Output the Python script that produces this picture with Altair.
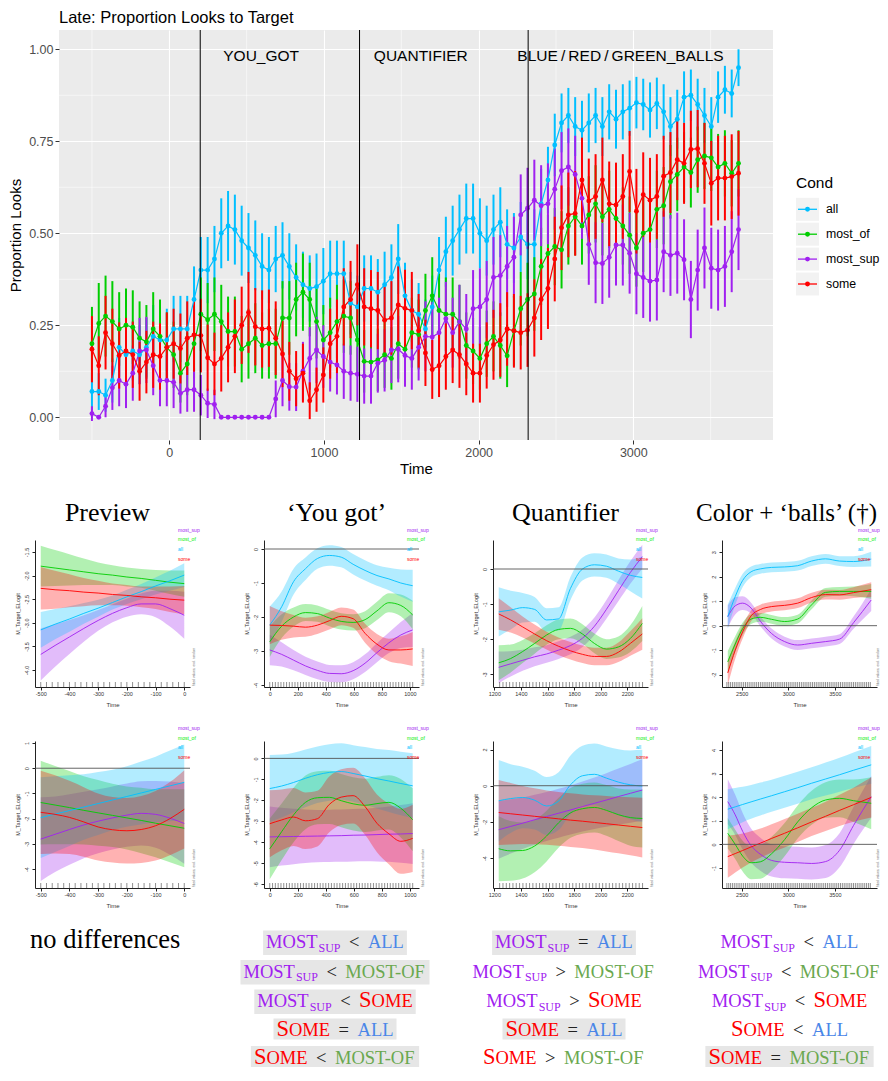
import altair as alt
import numpy as np
import pandas as pd

# ------------------------------------------------------------------
# Top panel: proportion of looks to target (mean and error half-width)
# ------------------------------------------------------------------
CONDS = ["all", "most_of", "most_sup", "some"]
TIME_START, TIME_STEP, N_BINS = -500, 44, 96

ALL_MEAN = [0.07, 0.07, 0.06, 0.10, 0.19, 0.17, 0.18, 0.17, 0.19, 0.22,
            0.21, 0.21, 0.24, 0.24, 0.24, 0.32, 0.40, 0.40, 0.43, 0.50,
            0.52, 0.51, 0.48, 0.46, 0.44, 0.41, 0.40, 0.43, 0.44, 0.41,
            0.38, 0.36, 0.35, 0.355, 0.37, 0.39, 0.39, 0.39, 0.31, 0.30,
            0.35, 0.35, 0.34, 0.36, 0.38, 0.43, 0.33, 0.29, 0.28, 0.24,
            0.30, 0.40, 0.45, 0.48, 0.51, 0.54, 0.54, 0.50, 0.48, 0.51,
            0.53, 0.47, 0.46, 0.49, 0.47, 0.47, 0.58, 0.645, 0.74, 0.80,
            0.82, 0.79, 0.78, 0.80, 0.82, 0.79, 0.83, 0.81, 0.83, 0.84,
            0.855, 0.85, 0.835, 0.853, 0.83, 0.79, 0.81, 0.87, 0.875, 0.85,
            0.82, 0.79, 0.87, 0.89, 0.88, 0.95]
ALL_HW = [0.05, 0.05, 0.045, 0.06, 0.08, 0.08, 0.08, 0.08, 0.08, 0.085,
          0.085, 0.085, 0.09, 0.09, 0.09, 0.09, 0.09, 0.09, 0.09, 0.095,
          0.095, 0.095, 0.095, 0.095, 0.095, 0.09, 0.09, 0.09, 0.09, 0.09,
          0.09, 0.09, 0.09, 0.09, 0.09, 0.09, 0.09, 0.09, 0.085, 0.085,
          0.09, 0.09, 0.09, 0.09, 0.09, 0.095, 0.09, 0.085, 0.085, 0.08,
          0.085, 0.09, 0.095, 0.095, 0.095, 0.095, 0.095, 0.095, 0.095, 0.095,
          0.095, 0.095, 0.095, 0.095, 0.095, 0.095, 0.095, 0.09, 0.085, 0.08,
          0.075, 0.08, 0.08, 0.08, 0.075, 0.08, 0.075, 0.08, 0.075, 0.075,
          0.07, 0.07, 0.075, 0.07, 0.075, 0.08, 0.08, 0.07, 0.07, 0.07,
          0.075, 0.08, 0.07, 0.065, 0.065, 0.05]

MOSTOF_MEAN = [0.20, 0.255, 0.275, 0.26, 0.24, 0.25, 0.245, 0.215, 0.205, 0.24,
               0.22, 0.19, 0.17, 0.12, 0.145, 0.20, 0.28, 0.265, 0.28, 0.26,
               0.233, 0.233, 0.185, 0.20, 0.215, 0.195, 0.20, 0.20, 0.27, 0.27,
               0.32, 0.34, 0.32, 0.26, 0.21, 0.23, 0.26, 0.275, 0.27, 0.21,
               0.152, 0.15, 0.156, 0.17, 0.16, 0.20, 0.185, 0.23, 0.225, 0.29,
               0.33, 0.29, 0.28, 0.28, 0.26, 0.195, 0.18, 0.16, 0.20, 0.22,
               0.195, 0.167, 0.235, 0.295, 0.32, 0.335, 0.41, 0.445, 0.464, 0.455,
               0.52, 0.545, 0.52, 0.55, 0.58, 0.545, 0.565, 0.54, 0.52, 0.495,
               0.46, 0.50, 0.51, 0.565, 0.575, 0.64, 0.66, 0.68, 0.665, 0.70,
               0.71, 0.705, 0.68, 0.69, 0.663, 0.69]
MOSTOF_HW = [0.10, 0.11, 0.11, 0.11, 0.10, 0.10, 0.10, 0.10, 0.10, 0.10,
             0.10, 0.095, 0.09, 0.08, 0.085, 0.095, 0.10, 0.10, 0.10, 0.10,
             0.095, 0.095, 0.09, 0.095, 0.095, 0.09, 0.095, 0.095, 0.10, 0.10,
             0.10, 0.105, 0.10, 0.10, 0.095, 0.095, 0.10, 0.10, 0.10, 0.095,
             0.085, 0.085, 0.085, 0.09, 0.085, 0.095, 0.09, 0.095, 0.095, 0.10,
             0.105, 0.10, 0.10, 0.10, 0.10, 0.09, 0.09, 0.085, 0.09, 0.095,
             0.09, 0.085, 0.095, 0.10, 0.10, 0.10, 0.105, 0.105, 0.105, 0.105,
             0.105, 0.105, 0.105, 0.105, 0.105, 0.105, 0.105, 0.105, 0.105, 0.105,
             0.105, 0.105, 0.105, 0.105, 0.105, 0.10, 0.10, 0.095, 0.095, 0.09,
             0.09, 0.09, 0.09, 0.09, 0.09, 0.09]

MOSTSUP_MEAN = [0.01, 0.0, 0.03, 0.08, 0.10, 0.09, 0.12, 0.18, 0.183, 0.14,
                0.10, 0.10, 0.095, 0.065, 0.075, 0.075, 0.06, 0.038, 0.035, 0.0,
                0.0, 0.0, 0.0, 0.0, 0.0, 0.0, 0.0, 0.05, 0.10, 0.083,
                0.082, 0.125, 0.16, 0.183, 0.165, 0.15, 0.142, 0.125, 0.12, 0.117,
                0.112, 0.112, 0.147, 0.155, 0.183, 0.185, 0.168, 0.16, 0.19, 0.22,
                0.218, 0.23, 0.268, 0.23, 0.26, 0.24, 0.295, 0.30, 0.32, 0.38,
                0.385, 0.41, 0.435, 0.55, 0.568, 0.59, 0.575, 0.58, 0.62, 0.67,
                0.68, 0.66, 0.595, 0.47, 0.42, 0.418, 0.435, 0.468, 0.468, 0.446,
                0.39, 0.38, 0.37, 0.373, 0.45, 0.44, 0.446, 0.428, 0.32, 0.40,
                0.46, 0.405, 0.40, 0.41, 0.45, 0.51]
MOSTSUP_HW = [0.02, 0.0, 0.03, 0.06, 0.07, 0.065, 0.075, 0.09, 0.09, 0.08,
              0.07, 0.07, 0.07, 0.055, 0.06, 0.06, 0.055, 0.04, 0.04, 0.0,
              0.0, 0.0, 0.0, 0.0, 0.0, 0.0, 0.0, 0.05, 0.07, 0.065,
              0.065, 0.08, 0.085, 0.09, 0.085, 0.08, 0.08, 0.075, 0.075, 0.075,
              0.075, 0.075, 0.08, 0.085, 0.09, 0.09, 0.085, 0.085, 0.09, 0.095,
              0.095, 0.095, 0.10, 0.095, 0.10, 0.095, 0.105, 0.105, 0.105, 0.11,
              0.11, 0.11, 0.11, 0.11, 0.11, 0.11, 0.11, 0.11, 0.11, 0.105,
              0.105, 0.105, 0.11, 0.11, 0.11, 0.11, 0.11, 0.11, 0.11, 0.11,
              0.11, 0.11, 0.11, 0.11, 0.11, 0.11, 0.11, 0.11, 0.105, 0.11,
              0.11, 0.11, 0.11, 0.11, 0.11, 0.11]

SOME_MEAN = [0.185, 0.14, 0.23, 0.20, 0.168, 0.18, 0.17, 0.125, 0.15, 0.17,
             0.165, 0.19, 0.20, 0.187, 0.215, 0.224, 0.222, 0.162, 0.145, 0.16,
             0.19, 0.22, 0.25, 0.285, 0.246, 0.24, 0.242, 0.215, 0.172, 0.125,
             0.105, 0.12, 0.045, 0.075, 0.115, 0.20, 0.22, 0.30, 0.32, 0.36,
             0.30, 0.295, 0.29, 0.264, 0.27, 0.305, 0.296, 0.29, 0.235, 0.175,
             0.13, 0.14, 0.165, 0.183, 0.17, 0.145, 0.12, 0.12, 0.168, 0.197,
             0.21, 0.24, 0.235, 0.23, 0.237, 0.27, 0.32, 0.35, 0.43, 0.515,
             0.55, 0.554, 0.645, 0.588, 0.60, 0.645, 0.58, 0.577, 0.60, 0.668,
             0.56, 0.605, 0.59, 0.60, 0.655, 0.665, 0.70, 0.69, 0.728, 0.73,
             0.69, 0.636, 0.65, 0.65, 0.654, 0.663]
SOME_HW = [0.09, 0.08, 0.10, 0.095, 0.09, 0.09, 0.09, 0.08, 0.085, 0.09,
           0.09, 0.095, 0.095, 0.095, 0.10, 0.10, 0.10, 0.09, 0.085, 0.09,
           0.095, 0.10, 0.105, 0.11, 0.105, 0.105, 0.105, 0.10, 0.09, 0.08,
           0.075, 0.08, 0.05, 0.06, 0.075, 0.095, 0.10, 0.105, 0.105, 0.11,
           0.105, 0.105, 0.105, 0.10, 0.10, 0.105, 0.105, 0.105, 0.10, 0.09,
           0.08, 0.085, 0.09, 0.09, 0.09, 0.085, 0.08, 0.08, 0.09, 0.095,
           0.10, 0.10, 0.10, 0.10, 0.10, 0.105, 0.11, 0.11, 0.115, 0.115,
           0.115, 0.115, 0.115, 0.115, 0.115, 0.115, 0.115, 0.115, 0.115, 0.11,
           0.115, 0.115, 0.115, 0.115, 0.11, 0.11, 0.11, 0.11, 0.105, 0.105,
           0.11, 0.115, 0.115, 0.115, 0.115, 0.115]

EVENT_T = [200, 1230, 2320]
EVENT_LABELS = ["YOU_GOT", "QUANTIFIER", "BLUE\u2009/\u2009RED\u2009/\u2009GREEN_BALLS"]
EVENT_LABEL_T = [594, 1626, 2917]
EVENT_LABEL_Y = [0.982, 0.982, 0.982]

# ------------------------------------------------------------------
# GAMM smooth panels (fitted value and CI half-width per condition)
# ------------------------------------------------------------------
SM_ORDER = ["most_sup", "most_of", "all", "some"]

P1_T = [-500, -450, -400, -350, -300, -250, -200, -150, -100, -50, 0]
P1_FIT = {"most_sup": [-3.67, -3.48, -3.30, -3.12, -2.95, -2.80, -2.68, -2.60, -2.60, -2.70, -2.84],
          "most_of": [-1.80, -1.84, -1.88, -1.92, -1.96, -1.99, -2.03, -2.06, -2.10, -2.14, -2.17],
          "all": [-3.15, -3.03, -2.92, -2.80, -2.69, -2.57, -2.45, -2.34, -2.22, -2.11, -1.99],
          "some": [-2.27, -2.30, -2.32, -2.35, -2.37, -2.40, -2.42, -2.45, -2.47, -2.50, -2.52]}
P1_CI = {"most_sup": [0.55, 0.45, 0.36, 0.28, 0.22, 0.19, 0.19, 0.22, 0.28, 0.38, 0.50],
         "most_of": [0.43, 0.38, 0.33, 0.28, 0.24, 0.21, 0.20, 0.20, 0.22, 0.25, 0.28],
         "all": [0.38, 0.32, 0.27, 0.22, 0.18, 0.15, 0.15, 0.16, 0.18, 0.21, 0.25],
         "some": [0.45, 0.40, 0.35, 0.30, 0.26, 0.23, 0.22, 0.22, 0.24, 0.27, 0.30]}

P2_T = [0, 85, 170, 255, 340, 425, 510, 595, 680, 765, 850, 935, 1020]
P2_FIT = {"most_sup": [-2.97, -3.10, -3.27, -3.44, -3.57, -3.66, -3.67, -3.58, -3.36, -3.05, -2.76, -2.53, -2.38],
          "most_of": [-2.73, -2.27, -2.00, -1.87, -1.90, -2.03, -2.13, -2.16, -2.08, -1.82, -1.58, -1.66, -1.94],
          "all": [-2.24, -1.70, -0.96, -0.58, -0.28, -0.19, -0.24, -0.45, -0.63, -0.78, -0.88, -1.00, -1.08],
          "some": [-2.24, -2.25, -2.27, -2.30, -2.24, -2.11, -1.98, -2.05, -2.48, -2.80, -2.97, -2.97, -2.94]}
P2_CI = {"most_sup": [0.45, 0.36, 0.30, 0.27, 0.26, 0.25, 0.25, 0.25, 0.26, 0.28, 0.30, 0.38, 0.50],
         "most_of": [0.45, 0.35, 0.28, 0.25, 0.24, 0.24, 0.24, 0.24, 0.25, 0.27, 0.28, 0.32, 0.42],
         "all": [0.55, 0.45, 0.38, 0.33, 0.30, 0.30, 0.30, 0.30, 0.30, 0.30, 0.33, 0.40, 0.47],
         "some": [0.56, 0.42, 0.33, 0.28, 0.26, 0.26, 0.26, 0.27, 0.28, 0.30, 0.33, 0.40, 0.50]}

P3_T = [1233, 1323, 1413, 1503, 1593, 1683, 1773, 1863, 1953, 2043, 2133, 2223, 2313]
P3_FIT = {"most_sup": [-2.80, -2.70, -2.60, -2.50, -2.42, -2.31, -2.18, -1.97, -1.63, -1.15, -0.62, -0.10, 0.35],
          "most_of": [-2.67, -2.55, -2.35, -2.12, -1.88, -1.72, -1.69, -1.85, -2.12, -2.28, -2.22, -1.98, -1.55],
          "all": [-1.22, -1.17, -1.10, -1.15, -1.45, -1.42, -0.55, 0.00, 0.12, 0.08, -0.06, -0.18, -0.24],
          "some": [-1.28, -1.45, -1.65, -1.85, -2.04, -2.20, -2.33, -2.43, -2.49, -2.49, -2.37, -2.12, -1.85]}
P3_CI = {"most_sup": [0.45, 0.36, 0.30, 0.27, 0.25, 0.25, 0.25, 0.25, 0.25, 0.27, 0.30, 0.32, 0.34],
         "most_of": [0.50, 0.40, 0.33, 0.29, 0.28, 0.28, 0.28, 0.28, 0.28, 0.28, 0.30, 0.38, 0.50],
         "all": [0.70, 0.55, 0.42, 0.35, 0.33, 0.33, 0.33, 0.33, 0.33, 0.33, 0.36, 0.45, 0.60],
         "some": [0.45, 0.36, 0.30, 0.27, 0.25, 0.25, 0.25, 0.25, 0.25, 0.25, 0.28, 0.35, 0.45]}

P4_T = [2350, 2430, 2510, 2600, 2700, 2820, 2960, 3100, 3250, 3400, 3550, 3700, 3890]
P4_FIT = {"most_sup": [0.37, 0.81, 0.92, 0.72, 0.18, -0.32, -0.65, -0.79, -0.72, -0.65, -0.55, 0.12, 1.05],
          "most_of": [-1.48, -0.75, -0.12, 0.27, 0.34, 0.26, 0.17, 0.27, 0.85, 1.36, 1.40, 1.40, 1.40],
          "all": [0.37, 1.19, 1.85, 2.20, 2.32, 2.38, 2.40, 2.45, 2.64, 2.73, 2.64, 2.62, 2.72],
          "some": [-1.93, -1.00, -0.25, 0.40, 0.66, 0.78, 0.83, 0.92, 1.15, 1.27, 1.26, 1.35, 1.47]}
P4_CI = {"most_sup": [0.45, 0.35, 0.28, 0.22, 0.20, 0.20, 0.20, 0.20, 0.20, 0.20, 0.20, 0.25, 0.45],
         "most_of": [0.45, 0.32, 0.25, 0.20, 0.18, 0.18, 0.18, 0.18, 0.18, 0.18, 0.18, 0.20, 0.30],
         "all": [0.50, 0.35, 0.27, 0.22, 0.20, 0.20, 0.20, 0.20, 0.20, 0.20, 0.20, 0.22, 0.30],
         "some": [0.50, 0.35, 0.27, 0.22, 0.20, 0.20, 0.20, 0.20, 0.20, 0.20, 0.20, 0.22, 0.30]}

P5_T = [-500, -450, -400, -350, -300, -250, -200, -150, -100, -50, 0]
P5_FIT = {"most_sup": [-2.81, -2.62, -2.43, -2.25, -2.10, -1.97, -1.86, -1.79, -1.83, -1.98, -2.19],
          "most_of": [-1.36, -1.46, -1.56, -1.67, -1.77, -1.87, -1.97, -2.07, -2.18, -2.28, -2.38],
          "all": [-1.96, -1.82, -1.68, -1.54, -1.40, -1.26, -1.12, -0.98, -0.84, -0.70, -0.56],
          "some": [-1.75, -1.83, -1.95, -2.13, -2.33, -2.44, -2.48, -2.43, -2.28, -2.00, -1.63]}
P5_CI = {"most_sup": [1.66, 1.50, 1.40, 1.32, 1.27, 1.25, 1.25, 1.27, 1.32, 1.45, 1.60],
         "most_of": [1.66, 1.55, 1.45, 1.35, 1.30, 1.25, 1.25, 1.30, 1.35, 1.45, 1.55],
         "all": [1.60, 1.50, 1.40, 1.30, 1.25, 1.20, 1.20, 1.25, 1.30, 1.40, 1.50],
         "some": [1.65, 1.55, 1.45, 1.38, 1.33, 1.30, 1.30, 1.33, 1.38, 1.45, 1.55]}

P6_T = [0, 85, 170, 255, 340, 425, 510, 595, 680, 765, 850, 935, 1020]
P6_FIT = {"most_sup": [-3.75, -3.74, -3.73, -3.72, -3.71, -3.70, -3.69, -3.67, -3.66, -3.64, -3.62, -3.61, -3.59],
          "most_of": [-4.32, -3.50, -2.70, -2.10, -1.88, -1.86, -2.02, -2.17, -2.24, -2.16, -2.10, -2.38, -2.93],
          "all": [-1.44, -1.32, -1.15, -0.95, -0.78, -0.67, -0.63, -0.72, -0.84, -0.97, -1.08, -1.20, -1.31],
          "some": [-3.12, -2.94, -2.80, -2.98, -2.88, -2.20, -1.85, -1.78, -2.30, -3.10, -3.60, -3.96, -3.82]}
P6_CI = {"most_sup": [1.45, 1.38, 1.32, 1.28, 1.25, 1.25, 1.25, 1.25, 1.25, 1.28, 1.32, 1.38, 1.45],
         "most_of": [1.45, 1.35, 1.30, 1.28, 1.27, 1.27, 1.27, 1.27, 1.27, 1.28, 1.30, 1.40, 1.50],
         "all": [1.60, 1.50, 1.42, 1.38, 1.35, 1.35, 1.35, 1.35, 1.38, 1.42, 1.48, 1.52, 1.55],
         "some": [1.60, 1.45, 1.38, 1.35, 1.33, 1.33, 1.33, 1.33, 1.35, 1.38, 1.45, 1.55, 1.60]}

P7_T = [1233, 1323, 1413, 1503, 1593, 1683, 1773, 1863, 1953, 2043, 2133, 2223, 2313]
P7_FIT = {"most_sup": [-2.43, -2.25, -2.07, -1.88, -1.70, -1.52, -1.34, -1.15, -0.97, -0.79, -0.60, -0.42, -0.24],
          "most_of": [-3.48, -3.60, -3.58, -3.33, -2.78, -2.05, -1.50, -1.27, -1.20, -1.36, -1.60, -1.76, -1.81],
          "all": [-0.83, -0.71, -0.65, -0.80, -1.12, -0.85, 0.05, 0.55, 0.63, 0.42, 0.20, 0.05, -0.02],
          "some": [-1.48, -1.55, -1.62, -1.69, -1.76, -1.83, -1.90, -1.96, -2.03, -2.10, -2.17, -2.24, -2.31]}
P7_CI = {"most_sup": [1.60, 1.50, 1.42, 1.38, 1.35, 1.35, 1.35, 1.38, 1.42, 1.48, 1.55, 1.62, 1.70],
         "most_of": [1.80, 1.65, 1.55, 1.45, 1.40, 1.38, 1.38, 1.38, 1.38, 1.40, 1.45, 1.55, 1.60],
         "all": [2.25, 1.90, 1.70, 1.62, 1.60, 1.60, 1.62, 1.66, 1.70, 1.75, 1.82, 1.90, 2.00],
         "some": [1.80, 1.70, 1.60, 1.55, 1.50, 1.48, 1.48, 1.48, 1.50, 1.53, 1.56, 1.60, 1.65]}

P8_T = [2350, 2430, 2510, 2600, 2700, 2820, 2960, 3100, 3250, 3400, 3550, 3700, 3890]
P8_FIT = {"most_sup": [1.81, 1.25, 0.55, -0.05, -0.42, -0.68, -0.76, -0.78, -0.81, -0.73, -0.25, 0.80, 2.02],
          "most_of": [0.47, 0.00, -0.50, -0.78, -0.74, -0.40, 0.20, 0.95, 1.55, 1.88, 1.95, 1.85, 1.74],
          "all": [1.49, 1.59, 1.69, 1.80, 1.92, 2.06, 2.23, 2.40, 2.59, 2.77, 2.95, 3.14, 3.37],
          "some": [-0.52, -0.39, -0.26, -0.11, 0.05, 0.25, 0.47, 0.70, 0.95, 1.19, 1.44, 1.68, 1.99]}
P8_CI = {"most_sup": [0.95, 0.85, 0.78, 0.72, 0.70, 0.68, 0.68, 0.68, 0.68, 0.70, 0.72, 0.78, 0.88],
         "most_of": [0.65, 0.62, 0.65, 0.70, 0.72, 0.72, 0.70, 0.70, 0.72, 0.75, 0.80, 0.90, 1.10],
         "all": [0.85, 0.80, 0.75, 0.72, 0.70, 0.68, 0.68, 0.68, 0.68, 0.70, 0.72, 0.75, 0.80],
         "some": [0.90, 0.80, 0.72, 0.66, 0.62, 0.60, 0.60, 0.60, 0.60, 0.62, 0.66, 0.72, 0.85]}

PANEL_TITLES = ["Preview", "\u2018You got\u2019", "Quantifier", "Color + \u2018balls\u2019 (\u2020)"]

# ------------------------------------------------------------------
# Comparison summary text
# ------------------------------------------------------------------
NO_DIFF = "no differences"
COMPARISONS = [
    [("sup", "<", "all"), ("sup", "<", "of"), ("sup", "<", "some"), ("some", "=", "all"), ("some", "<", "of")],
    [("sup", "=", "all"), ("sup", ">", "of"), ("sup", ">", "some"), ("some", "=", "all"), ("some", ">", "of")],
    [("sup", "<", "all"), ("sup", "<", "of"), ("sup", "<", "some"), ("some", "<", "all"), ("some", "=", "of")],
]
HIGHLIGHT = [[1, 1, 1, 1, 1], [1, 0, 0, 1, 0], [0, 0, 0, 0, 1]]

# ================== styles / layout ==================
TOP_COLORS = ["#00BFFF", "#00CD00", "#A020F0", "#FF0000"]
SM_COLORS = ["#A020F0", "#00EE00", "#00BFFF", "#FF0000"]
MINUS = "\u2212"
LBL = "replace(datum.label, '" + MINUS + "', '-')"

TOP_W, TOP_H = 714, 410
TOP_XDOM = [-713, 3903]
TOP_YDOM = [-0.0617, 1.0524]
GAP = 12           # vertical gap between row bounding boxes
ONE = pd.DataFrame({"k": [0]})

color_top = alt.Color("Cond:N", scale=alt.Scale(domain=CONDS, range=TOP_COLORS), legend=None)


def anchor(x, y_top, y_bottom):
    """invisible rule that fixes a sub-chart's bounding box"""
    return alt.Chart(ONE).mark_rule(opacity=0, strokeWidth=0.01).encode(
        x=alt.value(x), x2=alt.value(x), y=alt.value(y_top), y2=alt.value(y_bottom))


def tx(field="t"):
    return alt.X(f"{field}:Q", scale=alt.Scale(domain=TOP_XDOM, nice=False, zero=False),
                 axis=alt.Axis(values=[0, 1000, 2000, 3000], format="d", title="Time", grid=True,
                               gridColor="white", gridWidth=1.1, domain=False, tickColor="#333333",
                               tickSize=4, labelColor="#4D4D4D", labelFontSize=12.5, labelPadding=2,
                               titleFontSize=15, titleFontWeight="normal", titleColor="black",
                               titlePadding=3))


def ty(field):
    return alt.Y(f"{field}:Q", scale=alt.Scale(domain=TOP_YDOM, nice=False, zero=False),
                 axis=alt.Axis(values=[0, 0.25, 0.5, 0.75, 1.0], format=".2f", title="Proportion Looks",
                               grid=True, gridColor="white", gridWidth=1.1, domain=False,
                               tickColor="#333333", tickSize=4, labelColor="#4D4D4D",
                               labelFontSize=12.5, labelPadding=2, titleFontSize=15,
                               titleFontWeight="normal", titleColor="black", titlePadding=5))


times = TIME_START + TIME_STEP * np.arange(N_BINS)
series_mean = {"all": ALL_MEAN, "most_of": MOSTOF_MEAN, "most_sup": MOSTSUP_MEAN, "some": SOME_MEAN}
series_hw = {"all": ALL_HW, "most_of": MOSTOF_HW, "most_sup": MOSTSUP_HW, "some": SOME_HW}
rows = []
for c in CONDS:
    for t, m, h in zip(times, series_mean[c], series_hw[c]):
        rows.append(dict(t=float(t), Cond=c, mean=m, lo=m - h, hi=m + h))
tdf = pd.DataFrame(rows)

minor_x = alt.Chart(pd.DataFrame({"t": np.arange(-500, 3600, 1000)})).mark_rule(
    color="white", strokeWidth=0.55).encode(x=tx("t"))
minor_y = alt.Chart(pd.DataFrame({"v": np.arange(0.125, 1.0, 0.25)})).mark_rule(
    color="white", strokeWidth=0.55).encode(y=ty("v"))
ev_lines = alt.Chart(pd.DataFrame({"t": EVENT_T})).mark_rule(color="black", strokeWidth=1).encode(x=tx("t"))
ev_text = alt.Chart(pd.DataFrame({"t": EVENT_LABEL_T, "y": EVENT_LABEL_Y, "lab": EVENT_LABELS})).mark_text(
    fontSize=15.5, color="black", baseline="middle").encode(x=tx("t"), y=ty("y"), text="lab:N")
errbars = alt.Chart(tdf).mark_rule(strokeWidth=2.0).encode(x=tx(), y=ty("lo"), y2="hi:Q", color=color_top)
lines = alt.Chart(tdf).mark_line(strokeWidth=1.2).encode(x=tx(), y=ty("mean"), color=color_top)
pts = alt.Chart(tdf).mark_circle(size=24, opacity=1).encode(x=tx(), y=ty("mean"), color=color_top)
top_title = alt.Chart(pd.DataFrame({"lab": ["Late: Proportion Looks to Target"]})).mark_text(
    align="left", baseline="alphabetic", fontSize=16.5, color="black").encode(
    text="lab:N", x=alt.value(0), y=alt.value(-7))

top = alt.layer(minor_x, minor_y, errbars, lines, pts, ev_lines, ev_text, top_title,
                anchor(-51, -22, TOP_H + 46)).properties(
    width=TOP_W, height=TOP_H,
    view=alt.ViewBackground(fill="#EBEBEB", stroke=None))

# manual ggplot-style legend
LEG_W = 80
LEG_Y = alt.Scale(domain=[30, 30 + TOP_H], nice=False, zero=False, reverse=True)
ldf = pd.DataFrame({"Cond": CONDS, "py": [209.3 + 24.9 * i for i in range(len(CONDS))]})
ldf["y0"] = ldf["py"] - 11.5
ldf["y1"] = ldf["py"] + 11.5
ly = alt.Y("py:Q", scale=LEG_Y, axis=None)
leg_bg = alt.Chart(ldf).mark_rect(color="#F2F2F2").encode(
    x=alt.value(0), x2=alt.value(23), y=alt.Y("y0:Q", scale=LEG_Y, axis=None), y2="y1:Q")
leg_line = alt.Chart(ldf).mark_rule(strokeWidth=1.3).encode(x=alt.value(2), x2=alt.value(21), y=ly, color=color_top)
leg_pt = alt.Chart(ldf).mark_circle(size=24, opacity=1).encode(x=alt.value(11.5), y=ly, color=color_top)
leg_lab = alt.Chart(ldf).mark_text(align="left", baseline="middle", fontSize=12.3, color="black").encode(
    x=alt.value(30), y=ly, text="Cond:N")
leg_title = alt.Chart(pd.DataFrame({"py": [183.0], "lab": ["Cond"]})).mark_text(
    align="left", baseline="middle", fontSize=15.5, color="black").encode(x=alt.value(0), y=ly, text="lab:N")
legend = alt.layer(leg_bg, leg_line, leg_pt, leg_lab, leg_title).properties(width=LEG_W, height=TOP_H)

spacer = alt.Chart(ONE).mark_point(opacity=0).encode(
    x=alt.X("k:Q", axis=None), y=alt.Y("k:Q", axis=None)).properties(width=1, height=TOP_H)

# ---------------- small smooth panels ----------------
PW, PH = 155, 147
X_DOMS = [(-520, 20), (-41, 1065), (1190, 2356), (2288, 3952)]
X_TICKS = [list(range(-500, 1, 100)), list(range(0, 1001, 200)), list(range(1200, 2201, 200)), [2500, 3000, 3500]]
RUGS = [np.arange(-500, 1, 20), np.arange(0, 1021, 20), np.arange(1240, 2321, 25), np.arange(2340, 3891, 20)]
Y_DOMS_1 = [(-4.36, -1.246), (-4.06, 0.265), (-3.36, 0.826), (-2.505, 3.50)]
Y_TICKS_1 = [[-4, -3.5, -3, -2.5, -2, -1.5], [-4, -3, -2, -1, 0], [-3, -2, -1, 0], [-2, -1, 0, 1, 2, 3]]
Y_FMT_1 = [".1f", "d", "d", "d"]
Y_DOMS_2 = [(-4.75, 1.08), (-6.19, 0.83), (-5.65, 2.47), (-1.85, 4.38)]
Y_TICKS_2 = [[-4, -3, -2, -1, 0, 1], [-6, -5, -4, -3, -2, -1, 0], [-4, -2, 0, 2], [-1, 0, 1, 2, 3, 4]]
LEG_X = [PW - 12, PW - 12, PW - 12, PW - 19]      # legend text start inside each panel
CAP_X = [PW + 4, PW + 4, PW + 4, PW + 1]          # "fitted values" caption
TITLE_X = [PW / 2 - 5, PW / 2 - 5, PW / 2 - 5, PW / 2 - 13]
TITLE_FS = [26, 26, 26, 25]
LEG_Y0 = {1: -10.5, 2: -13}                       # first legend line, per panel row

sm_color = alt.Color("s:N", scale=alt.Scale(domain=SM_ORDER, range=SM_COLORS), legend=None)


def small_panel(i, row, T, FIT, CI, xdom, ydom, xticks, yticks, yfmt, rug, title, top_anchor):
    rows = []
    for s in SM_ORDER:
        for t, f, c in zip(T, FIT[s], CI[s]):
            rows.append(dict(t=t, s=s, fit=f, lo=f - c, hi=f + c))
    df = pd.DataFrame(rows)
    xs = alt.Scale(domain=list(xdom), nice=False, zero=False)
    ys = alt.Scale(domain=list(ydom), nice=False, zero=False)
    xax = alt.Axis(values=xticks, format="d", labelExpr=LBL, title="Time", grid=False,
                   domainColor="#222", tickColor="#222", tickSize=3, labelFontSize=5.5,
                   labelColor="#333", labelPadding=1.5, titleFontSize=6, titleFontWeight="normal",
                   titleColor="#333", titlePadding=4)
    yax = alt.Axis(values=yticks, format=yfmt, labelExpr=LBL, title="M_Target_ELogit", grid=False,
                   domainColor="#222", tickColor="#222", tickSize=3, labelFontSize=5.5,
                   labelColor="#333", labelPadding=2.5, labelAngle=270, labelAlign="center",
                   labelBaseline="bottom", titleFontSize=5.5, titleFontWeight="normal",
                   titleColor="#333", titlePadding=4)
    X = lambda f: alt.X(f"{f}:Q", scale=xs, axis=xax)
    Y = lambda f: alt.Y(f"{f}:Q", scale=ys, axis=yax)
    layers = [alt.Chart(df).mark_area(opacity=0.3, interpolate="monotone").encode(
        x=X("t"), y=Y("lo"), y2="hi:Q", color=sm_color),
        alt.Chart(df).mark_line(strokeWidth=0.9, interpolate="monotone").encode(
        x=X("t"), y=Y("fit"), color=sm_color)]
    if ydom[0] < 0 < ydom[1]:
        layers.append(alt.Chart(pd.DataFrame({"z": [0.0]})).mark_rule(color="#555", strokeWidth=0.9).encode(
            y=Y("z")))
    layers.append(alt.Chart(pd.DataFrame({"t": rug})).mark_rule(color="#222", strokeWidth=0.5).encode(
        x=X("t"), y=alt.value(PH), y2=alt.value(PH - 5)))
    for k, (s, col) in enumerate(zip(SM_ORDER, SM_COLORS)):
        layers.append(alt.Chart(pd.DataFrame({"lab": [s]})).mark_text(
            align="left", baseline="middle", fontSize=5, color=col).encode(
            text="lab:N", x=alt.value(LEG_X[i]), y=alt.value(LEG_Y0[row] + 9.7 * k)))
    layers.append(alt.Chart(pd.DataFrame({"lab": ["fitted values, excl. random"]})).mark_text(
        angle=270, align="left", baseline="middle", fontSize=3.3, color="#666").encode(
        text="lab:N", x=alt.value(CAP_X[i]), y=alt.value(PH - 1)))
    if title is not None:
        layers.append(alt.Chart(pd.DataFrame({"lab": [title]})).mark_text(
            align="center", baseline="alphabetic", font="Liberation Serif", fontSize=TITLE_FS[i],
            color="black").encode(text="lab:N", x=alt.value(TITLE_X[i]), y=alt.value(-19)))
    layers.append(anchor(-27, top_anchor, PH + 23))
    return alt.layer(*layers).properties(width=PW, height=PH)


row1_data = [(P1_T, P1_FIT, P1_CI), (P2_T, P2_FIT, P2_CI), (P3_T, P3_FIT, P3_CI), (P4_T, P4_FIT, P4_CI)]
row2_data = [(P5_T, P5_FIT, P5_CI), (P6_T, P6_FIT, P6_CI), (P7_T, P7_FIT, P7_CI), (P8_T, P8_FIT, P8_CI)]
row1 = alt.hconcat(*[small_panel(i, 1, T, F, C, X_DOMS[i], Y_DOMS_1[i], X_TICKS[i], Y_TICKS_1[i], Y_FMT_1[i],
                                 RUGS[i], PANEL_TITLES[i], -42) for i, (T, F, C) in enumerate(row1_data)],
                   spacing=74, bounds="flush")
row2 = alt.hconcat(*[small_panel(i, 2, T, F, C, X_DOMS[i], Y_DOMS_2[i], X_TICKS[i], Y_TICKS_2[i], "d",
                                 RUGS[i], None, -19) for i, (T, F, C) in enumerate(row2_data)],
                   spacing=74, bounds="flush")

# ---------------- comparison text block ----------------
PURPLE, BLUE, GREEN, RED, OPC = "#A020F0", "#4A86E8", "#6AA84F", "#FF0000", "#222222"
CAP, BIG, SUB = 18.5, 22.5, 12
CW = {"M": .889, "O": .722, "S": .556, "T": .611, "U": .722, "P": .556, "A": .722, "L": .611,
      "F": .556, "E": .611, "-": .333, "<": .564, "=": .564, ">": .564}
TERMS = {"sup": [("MOST", CAP, PURPLE, 0.0, 0.0), ("SUP", SUB, PURPLE, 3.5, 1.0)],
         "all": [("ALL", CAP, BLUE, 0.0, 0.0)],
         "of": [("MOST-OF", CAP, GREEN, 0.0, 0.0)],
         "some": [("S", BIG, RED, 0.0, 0.0), ("OME", CAP, RED, 0.0, 0.0)]}
COL_CENTERS = [335, 564, 789.5]
ROW_BASE = [948, 977.5, 1007, 1036, 1063.5]
OP_GAP = 8.5
TXT_TOP, TXT_H, TXT_LEFT, TXT_W = 942, 118, 35, 842


def wid(s, fs):
    return sum(CW[ch] for ch in s) * fs


segs, boxes = [], []
segs.append(dict(px=30, py=947.5, txt=NO_DIFF, fs=26.5, col="black"))
for ci, col in enumerate(COMPARISONS):
    for ri, (a, op, b) in enumerate(col):
        parts = [p for p in TERMS[a]]
        parts.append((op, CAP, OPC, 0.0, OP_GAP))
        for j, (s, f, c, dy, g) in enumerate(TERMS[b]):
            parts.append((s, f, c, dy, OP_GAP if j == 0 else g))
        total = sum(wid(s, f) + g for (s, f, c, dy, g) in parts)
        x = COL_CENTERS[ci] - total / 2
        start = x
        base = ROW_BASE[ri]
        for (s, f, c, dy, g) in parts:
            x += g
            segs.append(dict(px=x, py=base + dy, txt=s, fs=f, col=c))
            x += wid(s, f)
        if HIGHLIGHT[ci][ri]:
            has_sub = "sup" in (a, b)
            boxes.append(dict(x0=start - 3, x1=x + 3, y0=base - 17.5, y1=base + (7 if has_sub else 3.5)))
sdf = pd.DataFrame(segs)
bdf = pd.DataFrame(boxes)
TXS = alt.Scale(domain=[TXT_LEFT, TXT_LEFT + TXT_W], nice=False, zero=False)
TYS = alt.Scale(domain=[TXT_TOP, TXT_TOP + TXT_H], nice=False, zero=False, reverse=True)
hl = alt.Chart(bdf).mark_rect(color="#E6E6E6").encode(
    x=alt.X("x0:Q", scale=TXS, axis=None), x2="x1:Q",
    y=alt.Y("y0:Q", scale=TYS, axis=None), y2="y1:Q")
txt = alt.Chart(sdf).mark_text(align="left", baseline="alphabetic", font="Liberation Serif").encode(
    x=alt.X("px:Q", scale=TXS, axis=None), y=alt.Y("py:Q", scale=TYS, axis=None),
    text="txt:N", size=alt.Size("fs:Q", scale=None), color=alt.Color("col:N", scale=None))
text_block = alt.layer(hl, txt, anchor(-27, -19, 60)).properties(width=TXT_W, height=TXT_H)

# ---------------- assemble ----------------
top_row = alt.hconcat(spacer, top, legend, spacing=23, bounds="flush")
chart = alt.vconcat(top_row, row1, row2, text_block, spacing=GAP).properties(
    padding=0
).configure(font="Liberation Sans").configure_view(stroke=None)

chart.save("out.html", embed_options={"renderer": "svg", "actions": False})
